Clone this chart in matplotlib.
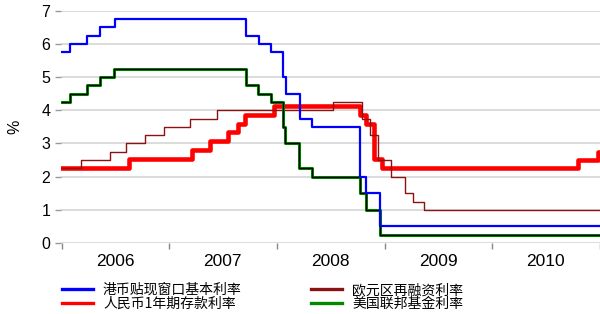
import matplotlib
matplotlib.use("Agg")
import matplotlib.pyplot as plt
import pandas as pd

# ---- data ----
start_date = "2006-01-01"
end_date = "2011-01-01"

hk_dates = ["2006-01-01", "2006-01-31", "2006-03-29", "2006-05-11", "2006-06-30",
            "2007-09-19", "2007-11-01", "2007-12-12", "2008-01-22", "2008-01-31",
            "2008-03-19", "2008-05-01", "2008-10-09", "2008-10-30", "2008-12-17", "2011-01-01"]
hk_rates = [5.75, 6.0, 6.25, 6.5, 6.75, 6.25, 6.0, 5.75, 5.0, 4.5, 3.75, 3.5, 2.0, 1.5, 0.5, 0.5]

cn_dates = ["2006-01-01", "2006-08-19", "2007-03-18", "2007-05-19", "2007-07-21",
            "2007-08-22", "2007-09-15", "2007-12-21", "2008-10-09", "2008-10-30",
            "2008-11-27", "2008-12-23", "2010-10-20", "2010-12-26", "2011-01-01"]
cn_rates = [2.25, 2.52, 2.79, 3.06, 3.33, 3.60, 3.87, 4.14, 3.87, 3.60, 2.52, 2.25, 2.50, 2.75, 2.75]

ecb_dates = ["2006-01-01", "2006-03-08", "2006-06-15", "2006-08-09", "2006-10-11",
             "2006-12-13", "2007-03-14", "2007-06-13", "2008-07-09", "2008-10-15",
             "2008-11-12", "2008-12-10", "2009-01-21", "2009-03-11", "2009-04-08",
             "2009-05-13", "2011-01-01"]
ecb_rates = [2.25, 2.5, 2.75, 3.0, 3.25, 3.5, 3.75, 4.0, 4.25, 3.75, 3.25, 2.5,
             2.0, 1.5, 1.25, 1.0, 1.0]

us_dates = ["2006-01-01", "2006-01-31", "2006-03-28", "2006-05-10", "2006-06-29",
            "2007-09-18", "2007-10-31", "2007-12-11", "2008-01-22", "2008-01-30",
            "2008-03-18", "2008-04-30", "2008-10-08", "2008-10-29", "2008-12-16", "2011-01-01"]
us_rates = [4.25, 4.5, 4.75, 5.0, 5.25, 4.75, 4.5, 4.25, 3.5, 3.0, 2.25, 2.0, 1.5, 1.0, 0.25, 0.25]

labels = ["港币贴现窗口基本利率", "人民币1年期存款利率", "欧元区再融资利率", "美国联邦基金利率"]
years = [2006, 2007, 2008, 2009, 2010]
yticks = [0, 1, 2, 3, 4, 5, 6, 7]

# ---- plot ----
plt.rcParams['font.family'] = ['Liberation Sans', 'DejaVu Sans']
fig = plt.figure(figsize=(6.0, 3.14), dpi=100)
ax = fig.add_axes([61.5 / 600, 1 - 243 / 314, 1 - 61.5 / 600, (243 - 10.7) / 314])

hk_d = pd.to_datetime(hk_dates)
cn_d = pd.to_datetime(cn_dates)
ecb_d = pd.to_datetime(ecb_dates)
us_d = pd.to_datetime(us_dates)

l_cn, = ax.step(cn_d, cn_rates, where="post", color="#FF0000", lw=3.3, zorder=3)
l_ecb, = ax.step(ecb_d, ecb_rates, where="post", color="#8B1212", lw=1.0, zorder=4)
l_us, = ax.step(us_d, us_rates, where="post", color="#008A00", lw=2.2, zorder=5)
ax.step(us_d, us_rates, where="post", color="#000000", lw=0.9, zorder=5.5)
l_hk, = ax.step(hk_d, hk_rates, where="post", color="#0000FF", lw=1.6, zorder=6)

ax.set_xlim(pd.Timestamp(start_date), pd.Timestamp(end_date))
ax.set_ylim(0, 7)
ax.set_yticks(yticks)
ax.set_yticklabels([str(v) for v in yticks], fontsize=11.5)
ax.yaxis.grid(True, color="#d2d2d2", lw=1.1)
ax.set_axisbelow(True)
for s in ax.spines.values():
    s.set_visible(False)

major = [pd.Timestamp(f"{y}-01-01") for y in years] + [pd.Timestamp(end_date)]
minor = [pd.Timestamp(f"{y}-07-01") for y in years]
ax.set_xticks(major)
ax.set_xticklabels([""] * len(major))
ax.set_xticks(minor, minor=True)
ax.set_xticklabels([str(y) for y in years], minor=True, fontsize=12.5)
ax.tick_params(axis="x", which="major", length=4, color="#888888", direction="out", width=1)
ax.tick_params(axis="x", which="minor", length=0, pad=8)
ax.tick_params(axis="y", length=4, color="#999999", width=1, pad=4)
ax.set_ylabel("%", fontsize=11.5)
ax.yaxis.set_label_coords(-0.072, 0.5)

leg = fig.legend([l_hk, l_cn, l_ecb, l_us], labels, ncol=2, loc="upper left",
                 bbox_to_anchor=(62 / 600, 1 - 283 / 314), frameon=False,
                 prop={"family": ["Noto Sans CJK SC"], "size": 10},
                 handlelength=2.2, handletextpad=0.75, columnspacing=5.0,
                 labelspacing=0.0, borderpad=0, borderaxespad=0)
for h in leg.legend_handles:
    h.set_linewidth(2.4)

fig.savefig("out.png", dpi=100)
